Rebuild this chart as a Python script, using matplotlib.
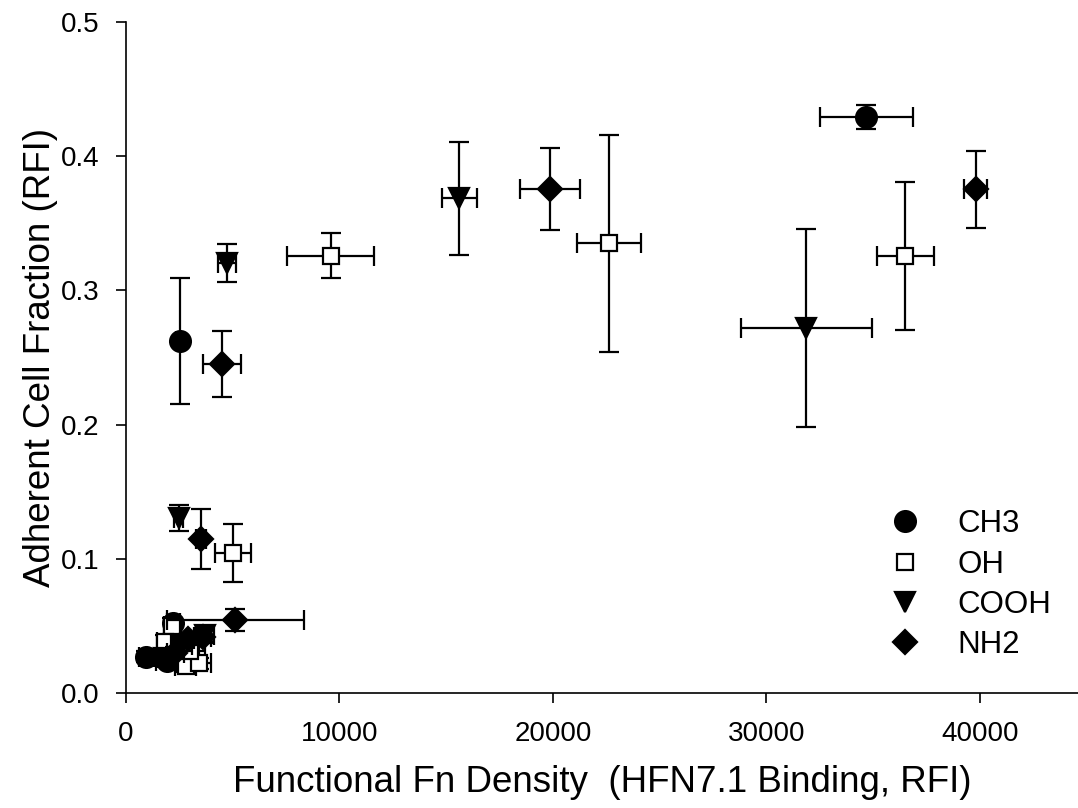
import matplotlib
matplotlib.use("Agg")
import matplotlib.pyplot as plt

plt.rcParams['font.family'] = ['Liberation Sans', 'DejaVu Sans']

# ---- data ----
ch3_x = [940, 2220, 1900, 2800, 2540, 34690]
ch3_y = [0.027, 0.052, 0.024, 0.034, 0.2625, 0.4295]
ch3_xerr = [350, 300, 500, 600, 200, 2170]
ch3_yerr = [0.004, 0.004, 0.003, 0.005, 0.047, 0.009]

oh_x = [2150, 1850, 2800, 3400, 3000, 5010, 9590, 22640, 36500]
oh_y = [0.050, 0.038, 0.020, 0.022, 0.031, 0.1045, 0.326, 0.335, 0.3256]
oh_xerr = [350, 400, 500, 600, 700, 860, 2050, 1500, 1340]
oh_yerr = [0.006, 0.005, 0.004, 0.004, 0.005, 0.0215, 0.017, 0.081, 0.055]

cooh_x = [3700, 2600, 1800, 2470, 4730, 15610, 31880]
cooh_y = [0.043, 0.036, 0.026, 0.1304, 0.3203, 0.3686, 0.272]
cooh_xerr = [400, 500, 300, 200, 440, 820, 3050]
cooh_yerr = [0.005, 0.005, 0.004, 0.010, 0.0143, 0.042, 0.0735]

nh2_x = [3600, 2900, 2300, 5120, 3510, 4500, 19860, 39810]
nh2_y = [0.042, 0.040, 0.030, 0.0544, 0.1148, 0.245, 0.3756, 0.3753]
nh2_xerr = [400, 300, 400, 3200, 250, 870, 1425, 540]
nh2_yerr = [0.005, 0.004, 0.004, 0.008, 0.0223, 0.0245, 0.0305, 0.0287]

series_names = ["CH3", "OH", "COOH", "NH2"]
x_ticks = [0, 10000, 20000, 30000, 40000]
y_ticks = [0.0, 0.1, 0.2, 0.3, 0.4, 0.5]

fig = plt.figure(figsize=(10.78, 8.08), dpi=100)
ax = fig.add_axes([126/1078, 1 - 693/808, (1078 - 126)/1078, (693 - 22)/808])

series = [
    (ch3_x, ch3_y, ch3_xerr, ch3_yerr, 'o', 'black', 15),
    (oh_x, oh_y, oh_xerr, oh_yerr, 's', 'white', 12),
    (cooh_x, cooh_y, cooh_xerr, cooh_yerr, 'v', 'black', 15),
    (nh2_x, nh2_y, nh2_xerr, nh2_yerr, 'D', 'black', 12),
]

handles = []
for i, (sx, sy, sxe, sye, mk, fc, ms) in enumerate(series):
    ax.errorbar(sx, sy, xerr=sxe, yerr=sye, fmt='none', ecolor='black',
                elinewidth=1.6, capsize=7, capthick=1.6, zorder=2 + 2 * i)
    h, = ax.plot(sx, sy, linestyle='none', marker=mk, markersize=ms,
                 markerfacecolor=fc, markeredgecolor='black',
                 markeredgewidth=1.6, zorder=3 + 2 * i, label=series_names[i])
    handles.append(h)

ax.set_xlim(0, 44600)
ax.set_ylim(0, 0.5)
ax.set_xticks(x_ticks)
ax.set_xticklabels([str(v) for v in x_ticks])
ax.set_yticks(y_ticks)
ax.set_yticklabels([f"{v:.1f}" for v in y_ticks])
ax.tick_params(axis='both', direction='out', length=7, width=1.2, labelsize=20)
ax.tick_params(axis='x', pad=13)
ax.tick_params(axis='y', pad=12)
ax.spines['top'].set_visible(False)
ax.spines['right'].set_visible(False)
ax.spines['left'].set_linewidth(1.2)
ax.spines['bottom'].set_linewidth(1.2)

ax.set_xlabel("Functional Fn Density  (HFN7.1 Binding, RFI)", fontsize=26.5, labelpad=13)
ax.set_ylabel("Adherent Cell Fraction (RFI)", fontsize=26.5, labelpad=2)

leg = ax.legend(handles=handles, loc='lower left', bbox_to_anchor=(0.785, 0.03),
                frameon=False, fontsize=22.5, handlelength=1.2, handletextpad=1.1,
                labelspacing=0.33, borderaxespad=0)

fig.savefig("out.png", dpi=100)
